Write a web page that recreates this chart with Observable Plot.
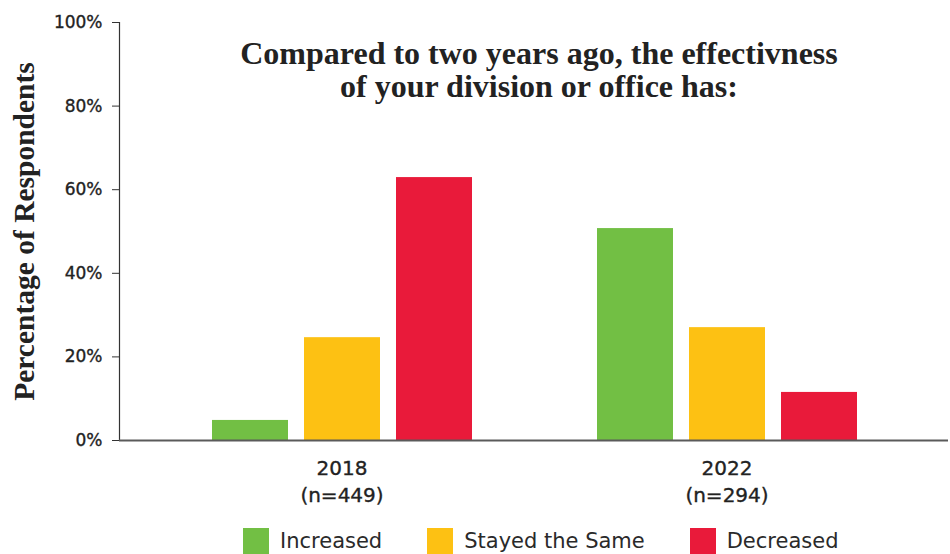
<!DOCTYPE html>
<html>
<head>
<meta charset="utf-8">
<script src="https://cdn.jsdelivr.net/npm/d3@7"></script>
<script src="https://cdn.jsdelivr.net/npm/@observablehq/plot@0.6"></script>
<style>
  html, body { margin: 0; padding: 0; background: #fff; }
  #wrap { position: relative; width: 950px; height: 554px; overflow: hidden; }
  #wrap > svg { position: absolute; left: 0; top: 0; }
  #legend { position: absolute; left: 243px; top: 528px; }
  #legend .lg-swatches { font-family: "DejaVu Sans", sans-serif; font-size: 21px; color: #2a2a2a; min-height: 26px; }
  #legend .lg-swatch { margin-right: 45px !important; }
  #legend .lg-swatch > svg { margin-right: 11px !important; }
  g[aria-label="y-axis label"] text { font-family: "Liberation Serif", serif; font-weight: bold; font-size: 29.5px; fill: #222; }
  g[aria-label="y-axis tick label"] text { font-size: 17px !important; }
  g[aria-label="y-axis tick label"] text, g[aria-label="fx-axis tick label"] text { stroke: #222; stroke-width: 0.35px; }
</style>
</head>
<body>
<div id="wrap"></div>
<script>
const years = ["2018", "2022"];
const sampleSizes = [449, 294];
const categories = ["Increased", "Stayed the Same", "Decreased"];
const colors = ["#72BF44", "#FDC113", "#E91A3A"];
const increased = [4.8, 50.7];
const stayedSame = [24.6, 27.0];
const decreased = [62.9, 11.5];
const yTicks = [0, 20, 40, 60, 80, 100];
const titleText = "Compared to two years ago, the effectivness\nof your division or office has:";
const yLabel = "Percentage of Respondents";

const series = [increased, stayedSame, decreased];
const data = [];
years.forEach((yr, i) => {
  categories.forEach((c, j) => data.push({year: yr, category: c, value: series[j][i]}));
});
const nByYear = Object.fromEntries(years.map((y, i) => [y, sampleSizes[i]]));

const frameOpts = {
  width: 950,
  height: 554,
  marginTop: 22,
  marginBottom: 114,
  marginLeft: 119,
  marginRight: 2
};

// Layer 1: grouped bars (faceted by year) and the year axis
const bars = Plot.plot({
  ...frameOpts,
  style: {fontFamily: "DejaVu Sans, sans-serif", background: "#fff", color: "#222"},
  fx: {domain: years, paddingInner: 0.1, paddingOuter: 0.126, label: null},
  x: {domain: categories, paddingInner: 0.174, paddingOuter: 0.4675, axis: null},
  y: {domain: [0, 100], axis: null},
  color: {domain: categories, range: colors},
  marks: [
    Plot.barY(data, {fx: "year", x: "category", y: "value", fill: "category"}),
    Plot.axisFx({
      anchor: "bottom",
      tickSize: 0,
      tickPadding: 15,
      fontSize: 20,
      lineHeight: 1.35,
      tickFormat: d => `${d}\n(n=${nByYear[d]})`,
      label: null
    })
  ]
});

// Layer 2: value axis, baseline, title (whole frame, not faceted)
const axes = Plot.plot({
  ...frameOpts,
  style: {fontFamily: "DejaVu Sans, sans-serif", background: "transparent", color: "#222", pointerEvents: "none"},
  y: {domain: [0, 100], label: yLabel},
  marks: [
    Plot.frame({anchor: "left", stroke: "#333", strokeWidth: 1.2}),
    Plot.ruleY([0], {stroke: "#5a5a5a", strokeWidth: 2}),
    Plot.axisY({
      ticks: yTicks,
      tickFormat: d => d + "%",
      tickSize: 7,
      tickPadding: 10,
      fontSize: 17,
      stroke: "#333",
      label: yLabel,
      labelAnchor: "center",
      labelArrow: "none",
      labelOffset: 106
    }),
    Plot.text([titleText], {
      frameAnchor: "top",
      lineAnchor: "top",
      dy: 18,
      dx: 5,
      fontFamily: "Liberation Serif, serif",
      fontWeight: "bold",
      fontSize: 32,
      lineHeight: 1.04,
      fill: "#222",
      lineWidth: Infinity
    })
  ]
});

const wrap = document.getElementById("wrap");
wrap.appendChild(bars);
wrap.appendChild(axes);

const legend = Plot.legend({
  color: {domain: categories, range: colors},
  swatchSize: 26,
  className: "lg"
});
const lg = document.createElement("div");
lg.id = "legend";
lg.appendChild(legend);
wrap.appendChild(lg);
</script>
</body>
</html>
